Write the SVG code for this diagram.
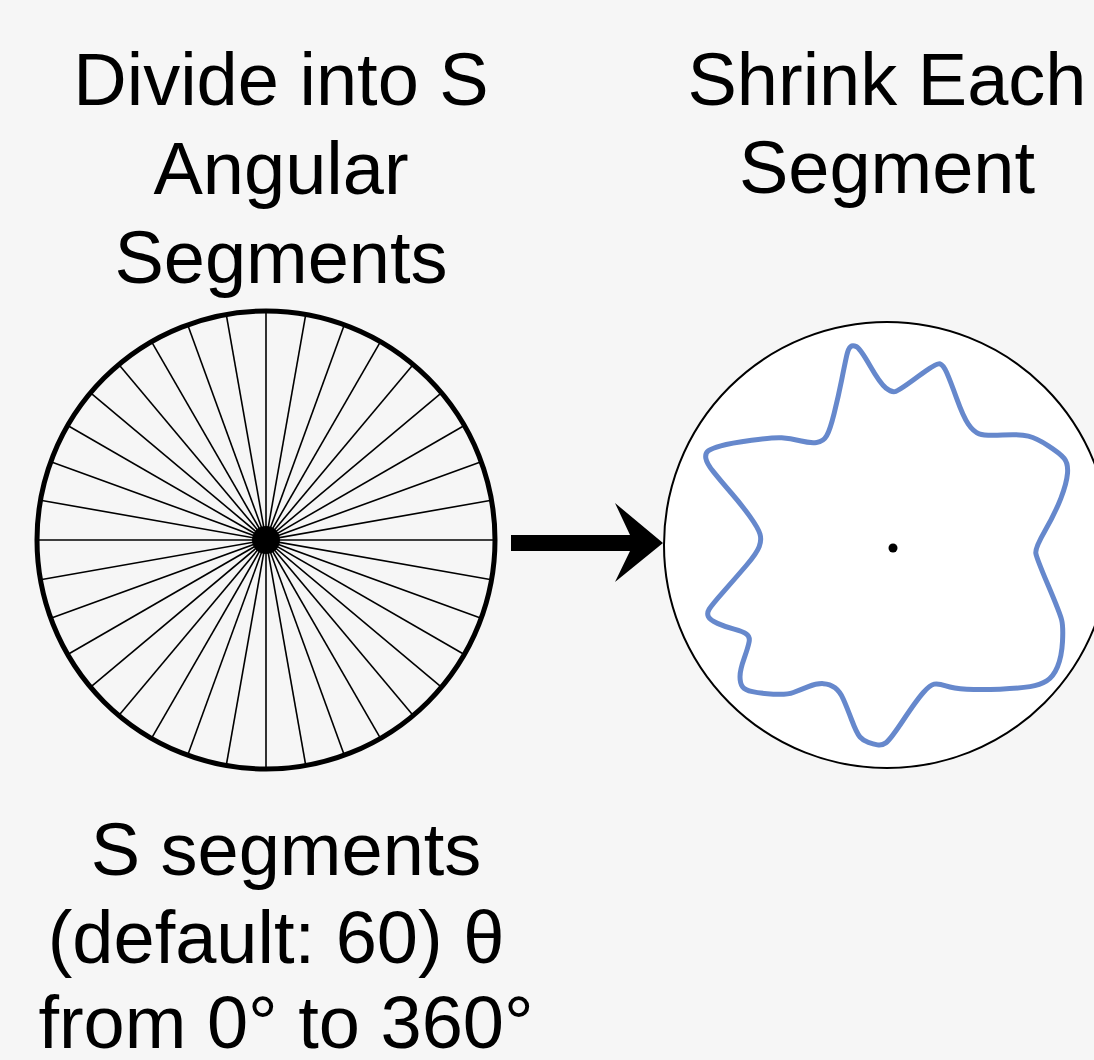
<svg xmlns="http://www.w3.org/2000/svg" xmlns:xlink="http://www.w3.org/1999/xlink" width="1094" height="1060" viewBox="0 0 1094 1060">
<style>
.t{font-family:"Liberation Sans",Arial,sans-serif;font-size:74px;fill:#000;text-anchor:middle}
.sp{stroke:#000;stroke-width:1.6}
</style>
<defs>
<line id="sp" class="sp" x1="37" y1="540" x2="495" y2="540"/>
</defs>
<rect width="1094" height="1060" fill="#f6f6f6"/>
<g id="title-left">
<text class="t" x="281" y="105">Divide into S</text>
<text class="t" x="281" y="194">Angular</text>
<text class="t" x="281" y="283">Segments</text>
</g>
<g id="title-right">
<text class="t" x="887" y="105">Shrink Each</text>
<text class="t" x="887" y="193">Segment</text>
</g>
<g id="segments-circle">
<circle cx="266" cy="540" r="229" fill="#f6f6f6" stroke="#000" stroke-width="5"/>
<use xlink:href="#sp"/>
<use xlink:href="#sp" transform="rotate(10 266 540)"/>
<use xlink:href="#sp" transform="rotate(20 266 540)"/>
<use xlink:href="#sp" transform="rotate(30 266 540)"/>
<use xlink:href="#sp" transform="rotate(40 266 540)"/>
<use xlink:href="#sp" transform="rotate(50 266 540)"/>
<use xlink:href="#sp" transform="rotate(60 266 540)"/>
<use xlink:href="#sp" transform="rotate(70 266 540)"/>
<use xlink:href="#sp" transform="rotate(80 266 540)"/>
<use xlink:href="#sp" transform="rotate(90 266 540)"/>
<use xlink:href="#sp" transform="rotate(100 266 540)"/>
<use xlink:href="#sp" transform="rotate(110 266 540)"/>
<use xlink:href="#sp" transform="rotate(120 266 540)"/>
<use xlink:href="#sp" transform="rotate(130 266 540)"/>
<use xlink:href="#sp" transform="rotate(140 266 540)"/>
<use xlink:href="#sp" transform="rotate(150 266 540)"/>
<use xlink:href="#sp" transform="rotate(160 266 540)"/>
<use xlink:href="#sp" transform="rotate(170 266 540)"/>
<circle cx="266" cy="540" r="14" fill="#000"/>
</g>
<g id="connectors">
<path d="M511,535 H630 L615,503 L663,543 L615,582 L630,551 H511 Z" fill="#000"/>
</g>
<g id="shrunk-circle">
<circle cx="887" cy="545" r="223" fill="#fff" stroke="#000" stroke-width="2"/>
<path fill="none" stroke="#6688cc" stroke-width="5" stroke-linejoin="round" d="M850.5,346.65 Q852.7,345 856.35,346.65 Q860,348.3 870,365.8 Q880,383.3 885.85,388 Q891.7,392.7 895.85,391.35 Q900,390 918.35,376.35 Q936.7,362.7 940,363.85 Q943.3,365 946.65,372.5 Q950,380 956.65,398.35 Q963.3,416.7 968.3,424.2 Q973.3,431.7 979.15,433.85 Q985,436 1002.5,435 Q1020,434 1028.35,436.15 Q1036.7,438.3 1048.35,445.8 Q1060,453.3 1064.15,458.3 Q1068.3,463.3 1067.5,473.3 Q1066.7,483.3 1060.85,498.3 Q1055,513.3 1045,530.8 Q1035,548.3 1035.85,553.3 Q1036.7,558.3 1048.35,585.8 Q1060,613.3 1061.65,620 Q1063.3,626.7 1062.5,641.7 Q1061.7,656.7 1057.5,666.7 Q1053.3,676.7 1046.65,680.85 Q1040,685 1030,686.65 Q1020,688.3 1000,689.15 Q980,690 966.65,689.15 Q953.3,688.3 945.8,685.8 Q938.3,683.3 934.15,684.15 Q930,685 923.35,692.5 Q916.7,700 903.35,720 Q890,740 885.85,742.85 Q881.7,745.7 877.5,744.85 Q873.3,744 868.3,742.35 Q863.3,740.7 860,737 Q856.7,733.3 851.7,720 Q846.7,706.7 843.35,699.2 Q840,691.7 835,687.85 Q830,684 823.35,683.65 Q816.7,683.3 808.35,686.65 Q800,690 793.35,692.5 Q786.7,695 773.35,694.15 Q760,693.3 752.5,691.65 Q745,690 742.5,686.65 Q740,683.3 740,676.65 Q740,670 744.15,658.35 Q748.3,646.7 749.15,641.7 Q750,636.7 746.65,634.2 Q743.3,631.7 734.15,629.2 Q725,626.7 717.5,623.35 Q710,620 708.35,616.65 Q706.7,613.3 709.2,609.15 Q711.7,605 724.2,590.85 Q736.7,576.7 746.7,565 Q756.7,553.3 759.2,546.65 Q761.7,540 760,534.15 Q758.3,528.3 750,516.65 Q741.7,505 730.85,492.5 Q720,480 713.35,471.65 Q706.7,463.3 705.85,458.3 Q705,453.3 708.35,450.8 Q711.7,448.3 720.85,445.8 Q730,443.3 751.65,440.3 Q773.3,437.3 781.65,437.8 Q790,438.3 800,440.8 Q810,443.3 816.65,442.5 Q823.3,441.7 826.65,435.85 Q830,430 834.15,413.35 Q838.3,396.7 841.65,380 Q845,363.3 846.65,355.8 Q848.3,348.3 850.5,346.65 Z"/>
<circle cx="893" cy="548" r="4.5" fill="#000"/>
</g>
<g id="caption">
<text class="t" x="286" y="875">S segments</text>
<text class="t" x="276" y="963">(default: 60) θ</text>
<text class="t" x="286" y="1048">from 0° to 360°</text>
</g>
</svg>
